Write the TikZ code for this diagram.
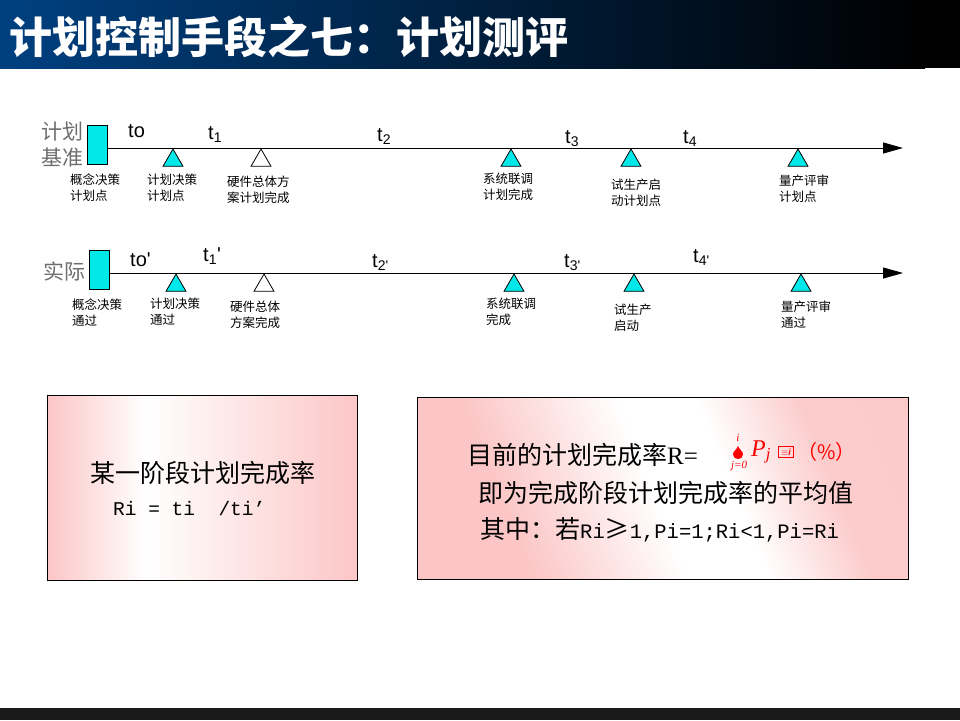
\documentclass[tikz,border=0pt]{standalone}
\usepackage{fontspec}
\setmainfont{Liberation Sans}
\newfontfamily\tfont{Liberation Sans}
\newfontfamily\cjk{Noto Sans CJK SC}
\newfontfamily\lmono{Liberation Mono}
\newfontfamily\lserif{Liberation Serif}
\usepackage{tikz}
\usetikzlibrary{
  arrows.meta,
  positioning,
  shapes.geometric
}
\definecolor{aqua}{RGB}{0,232,232}
\definecolor{pinkc}{RGB}{252,198,198}
\definecolor{titleblue}{RGB}{0,64,128}
\definecolor{darkbar}{RGB}{26,26,26}
\definecolor{rowgray}{RGB}{110,110,110}
\pgfdeclarehorizontalshading{pinkband}{100bp}{color(0bp)=(pinkc); color(25bp)=(pinkc); color(41bp)=(white); color(75bp)=(pinkc); color(100bp)=(pinkc)}
\pgfdeclarehorizontalshading{pinkdiag}{100bp}{color(0bp)=(pinkc); color(31bp)=(pinkc); color(49bp)=(white); color(58bp)=(white); color(70bp)=(pinkc!90!white); color(100bp)=(pinkc)}
\tikzset{
  basebox/.style={draw, line width=0.8pt, fill=aqua,
    minimum width=20pt, minimum height=39pt, inner sep=0pt},
  msdone/.style={draw, line width=0.8pt, fill=aqua, regular polygon,
    regular polygon sides=3, minimum size=23pt, inner sep=0pt},
  msopen/.style={msdone, fill=white},
  tline/.style={line width=1pt, -{Triangle[length=20pt,width=11pt]}},
  tlabel/.style={inner sep=0pt, anchor=base west, font=\tfont\fontsize{20}{20}\selectfont},
  msnote/.style={inner sep=0pt, anchor=west, align=left,
    font=\cjk\fontsize{12.5}{16}\selectfont},
  rowname/.style={inner sep=0pt, anchor=west, align=left, text=rowgray,
    font=\cjk\fontsize{21}{26}\selectfont},
  notebox/.style={draw, line width=1pt, shade, inner sep=0pt},
  boxtext/.style={inner sep=0pt, anchor=west, font=\cjk\fontsize{25}{25}\selectfont},
  redtext/.style={inner sep=0pt, text=red},
}
\newcommand{\lat}[1]{{\lmono\fontsize{20.5}{20}\selectfont #1}}

\begin{document}
\begin{tikzpicture}[x=1pt, y=-1pt]
  \useasboundingbox (0,0) rectangle (960,720);
  \fill[white] (0,0) rectangle (960,720);

  % Title bar
  \fill[black] (0,0) rectangle (960,68);
  \shade[left color=titleblue, right color=black] (0,0) rectangle (925,68);
  \node[anchor=west, inner sep=0pt, text=white,
        font=\cjk\bfseries\fontsize{43}{43}\selectfont] (title) at (9,37)
    {计划控制手段之七：计划测评};
  \fill[darkbar] (0,708) rectangle (960,720);

  % Plan line
  \node[rowname] (prow) at (41,145) {计划\\基准};
  \node[basebox] (pbase) at (97.5,144.5) {};
  \coordinate (pend) at (903,148);
  \draw[tline] (pbase.east |- pend) -- (pend);
  \node[tlabel] (pt0) at (128,137) {to};
  \node[tlabel] (pt1) at (208,139) {t\textsubscript{1}};
  \node[tlabel] (pt2) at (377,141) {t\textsubscript{2}};
  \node[tlabel] (pt3) at (565,143) {t\textsubscript{3}};
  \node[tlabel] (pt4) at (683,143) {t\textsubscript{4}};
  \node[msdone] (pm1) at (173,160.5) {};
  \node[msopen] (pm2) at (261,160.5) {};
  \node[msdone] (pm3) at (511,160.5) {};
  \node[msdone] (pm4) at (631,160.5) {};
  \node[msdone] (pm5) at (798,160.5) {};
  \node[msnote] (pn0) at (70,188) {概念决策\\计划点};
  \node[msnote] (pn1) at (147,188) {计划决策\\计划点};
  \node[msnote] (pn2) at (227,190) {硬件总体方\\案计划完成};
  \node[msnote] (pn3) at (483,187) {系统联调\\计划完成};
  \node[msnote] (pn4) at (611,193) {试生产启\\动计划点};
  \node[msnote] (pn5) at (779,189) {量产评审\\计划点};

  % Actual line
  \node[rowname] (arow) at (43,271) {实际};
  \node[basebox] (abase) at (99.3,270.3) {};
  \coordinate (aend) at (903,273);
  \draw[tline] (abase.east |- aend) -- (aend);
  \node[tlabel] (at0) at (130,266) {to'};
  \node[tlabel] (at1) at (203,261) {t\textsubscript{1}'};
  \node[tlabel] (at2) at (372,267) {t\textsubscript{2'}};
  \node[tlabel] (at3) at (564,267) {t\textsubscript{3'}};
  \node[tlabel] (at4) at (693,262) {t\textsubscript{4'}};
  \node[msdone] (am1) at (176,285.5) {};
  \node[msopen] (am2) at (264,285.5) {};
  \node[msdone] (am3) at (514,285.5) {};
  \node[msdone] (am4) at (634,285.5) {};
  \node[msdone] (am5) at (801,285.5) {};
  \node[msnote] (an0) at (72,313) {概念决策\\通过};
  \node[msnote] (an1) at (150,312) {计划决策\\通过};
  \node[msnote] (an2) at (230,315) {硬件总体\\方案完成};
  \node[msnote] (an3) at (486,312) {系统联调\\完成};
  \node[msnote] (an4) at (614,318) {试生产\\启动};
  \node[msnote] (an5) at (781,315) {量产评审\\通过};

  % Boxes
  \node[notebox, shading=pinkband, minimum width=310pt, minimum height=185pt]
    (lbox) at (202,487.5) {};
  \node[boxtext] (lt1) at (90,473) {某一阶段计划完成率};
  \node[boxtext, font=\lmono\fontsize{19.5}{20}\selectfont] (lt2) at (113,509)
    {Ri = ti\ \ /ti’};

  \node[notebox, shading=pinkdiag, shading angle=22, minimum width=491pt,
        minimum height=182pt] (rbox) at (662.5,488) {};
  \node[boxtext] (rt1) at (467,455) {目前的计划完成率{\lserif R=}};
  \node[redtext, font=\lserif\itshape\fontsize{11}{11}\selectfont] (sumhi) at (738,438) {i};
  \fill[red] (738,446) .. controls (739.5,450) and (743,451) .. (743,454.5)
    .. controls (743,457.5) and (740.5,459) .. (738,459)
    .. controls (735.5,459) and (733,457.5) .. (733,454.5)
    .. controls (733,451) and (736.5,450) .. (738,446);
  \node[redtext, font=\lserif\itshape\fontsize{11}{11}\selectfont] (sumlo) at (739,466) {j=0};
  \node[redtext, anchor=west, font=\lserif\itshape\fontsize{24}{24}\selectfont]
    (pj) at (751,452) {P\textsubscript{j}};
  \node[redtext, draw=red, line width=0.8pt, minimum width=15pt, minimum height=11pt,
        font=\fontsize{9}{9}\selectfont] (gbox) at (786,452) {$\equiv$\textbf{\textit{i}}};
  \node[redtext, anchor=west, font=\cjk\fontsize{20}{20}\selectfont] (pct) at (797,452) {（\%）};
  \node[boxtext] (rt2) at (478,493) {即为完成阶段计划完成率的平均值};
  \node[boxtext] (rt3) at (480,530) {其中：若\lat{Ri}≥\lat{1,Pi=1;Ri<1,Pi=Ri}};
\end{tikzpicture}
\end{document}
